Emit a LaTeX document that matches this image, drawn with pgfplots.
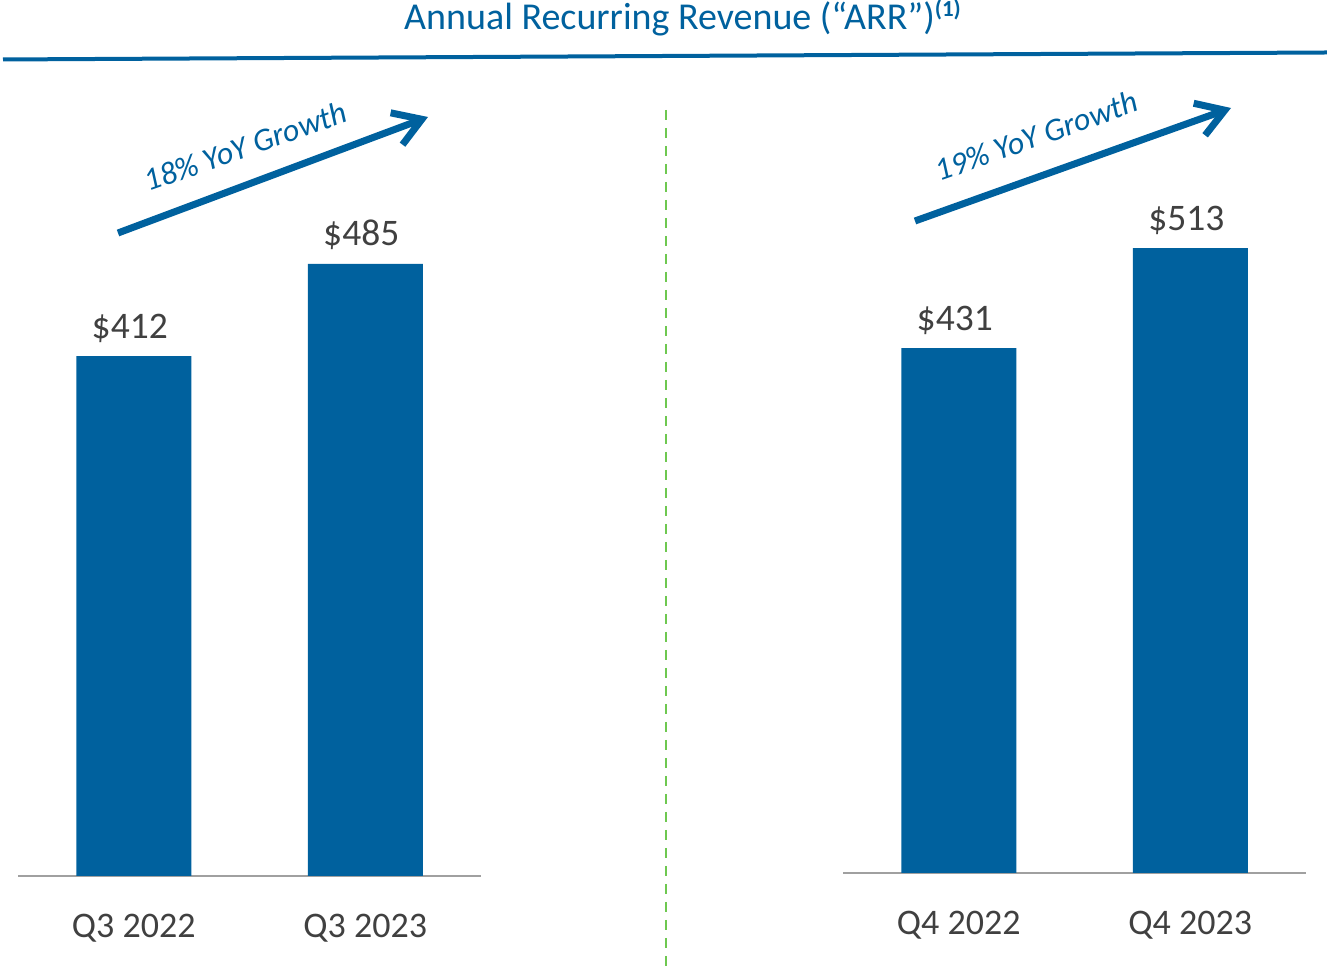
\documentclass[border=0pt]{standalone}
\usepackage{pgfplots}
\pgfplotsset{compat=1.18}
\usetikzlibrary{arrows.meta}
\usepackage{fontspec}
\setmainfont{Carlito}
\definecolor{arrblue}{RGB}{0,97,158}
\definecolor{textgray}{RGB}{64,64,64}
\definecolor{axisgray}{RGB}{160,160,160}
\definecolor{dashgreen}{RGB}{110,200,80}
\newcommand{\bigfont}{\fontsize{36}{43}\selectfont}
\pgfplotsset{
  arrstyle/.style={
    scale only axis,
    width=463pt,
    xmin=-0.5, xmax=1.5,
    ymin=0, ymax=600,
    axis x line=bottom,
    axis y line=none,
    x axis line style={-, draw=axisgray, line width=2pt},
    ytick=\empty,
    xtick={0,1},
    major tick length=0pt,
    clip=false,
    /pgf/number format/assume math mode=true,
    xticklabel style={anchor=base, yshift=-61pt, text=textgray, font=\bigfont},
    nodes near coords={\$\pgfmathprintnumber{\pgfplotspointmeta}},
    every node near coord/.append style={anchor=base, yshift=18pt, xshift=-4pt, text=textgray, font=\fontsize{37.5}{44}\selectfont},
  }
}
\begin{document}
\begin{tikzpicture}[x=1pt,y=1pt]
\path[use as bounding box] (0,0) rectangle (1327,971);
% title
\node[anchor=base west, text=arrblue, font=\fontsize{38}{45}\selectfont, inner sep=0pt] at (404,941)
  {Annual Recurring Revenue (“ARR”)\raisebox{13pt}{\fontsize{23}{25}\selectfont\bfseries(1)}};
\draw[arrblue, line width=4pt] (3,911.5) -- (1327,918.5);
% divider
\draw[dashgreen, line width=2.5pt, dash pattern=on 10pt off 8pt] (666,861) -- (666,0);
% left chart
\begin{axis}[arrstyle, height=757.2pt, at={(18pt,95pt)}, anchor=south west,
  xticklabels={Q3 2022, Q3 2023}]
\addplot[ybar, bar width=115pt, fill=arrblue, draw=none] coordinates {(0,412) (1,485)};
\end{axis}
% right chart
\begin{axis}[arrstyle, height=730.8pt, at={(843pt,98pt)}, anchor=south west,
  xticklabels={Q4 2022, Q4 2023}]
\addplot[ybar, bar width=115pt, fill=arrblue, draw=none] coordinates {(0,431) (1,513)};
\end{axis}
% growth arrows
\draw[arrblue, line width=7pt, -{Straight Barb[length=27pt,width=34pt]}] (118,738) -- (428,854);
\draw[arrblue, line width=7pt, -{Straight Barb[length=27pt,width=34pt]}] (915,750) -- (1231,863);
\node[rotate=19.5, anchor=base, text=arrblue, font=\fontsize{32}{38}\selectfont\itshape] at (249,814.5) {18\% YoY Growth};
\node[rotate=19.5, anchor=base, text=arrblue, font=\fontsize{32}{38}\selectfont\itshape] at (1040,825) {19\% YoY Growth};
\end{tikzpicture}
\end{document}
